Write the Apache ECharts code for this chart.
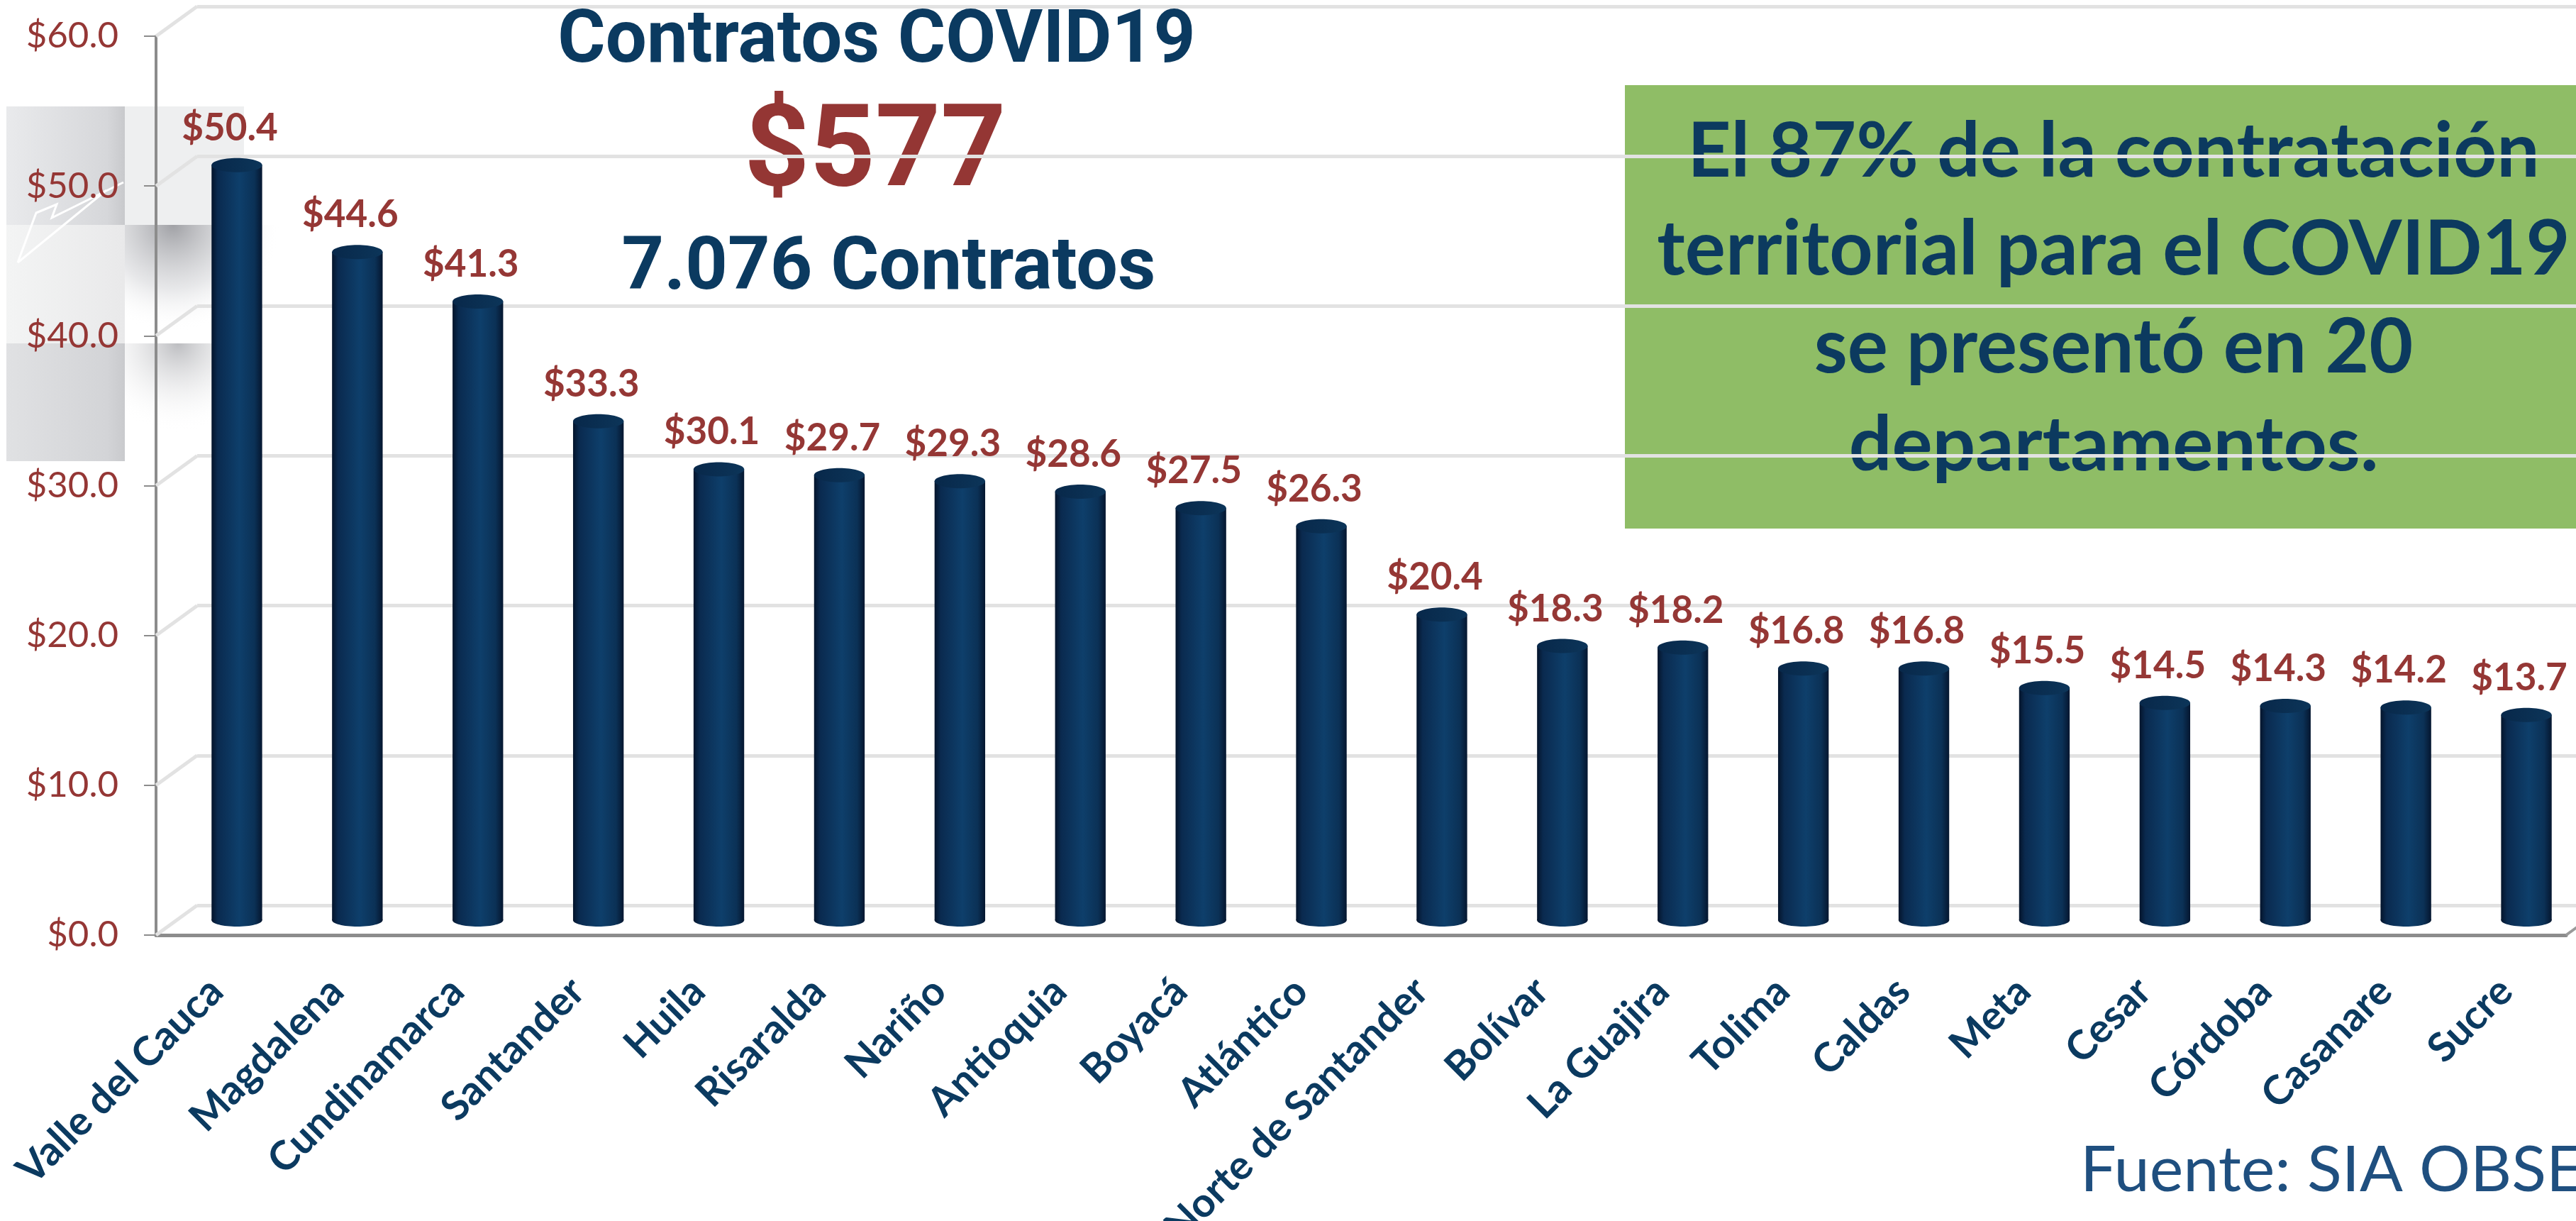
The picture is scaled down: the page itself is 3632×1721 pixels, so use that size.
<!DOCTYPE html>
<html>
<head>
<meta charset="utf-8">
<title>Contratos COVID19</title>
<script src="https://cdn.jsdelivr.net/npm/echarts@6/dist/echarts.min.js"></script>
<style>
  html, body { margin: 0; padding: 0; background: #fff; }
  #chart { width: 3632px; height: 1721px; }
</style>
</head>
<body>
<div id="chart"></div>
<script>
// valores en miles de millones de pesos
const departamentos = ['Valle del Cauca', 'Magdalena', 'Cundinamarca', 'Santander', 'Huila', 'Risaralda', 'Nariño', 'Antioquia', 'Boyacá', 'Atlántico', 'Norte de Santander', 'Bolívar', 'La Guajira', 'Tolima', 'Caldas', 'Meta', 'Cesar', 'Córdoba', 'Casanare', 'Sucre'];
const valores = [50.4, 44.6, 41.3, 33.3, 30.1, 29.7, 29.3, 28.6, 27.5, 26.3, 20.4, 18.3, 18.2, 16.8, 16.8, 15.5, 14.5, 14.3, 14.2, 13.7];
const ticksY = [0, 10, 20, 30, 40, 50, 60];
const resumen = ['Contratos COVID19', '$577', '7.076 Contratos'];
const nota = ['El 87% de la contratación', 'territorial para el COVID19', 'se presentó en 20', 'departamentos.'];
const fuente = 'Fuente: SIA OBSERVA';

const DX = 58, DY = -42; // profundidad del efecto 3D
const navy = '#0b3a60';
const rojo = '#953735';

const chart = echarts.init(document.getElementById('chart'));

const bodyGrad = () => new echarts.graphic.LinearGradient(0, 0, 1, 0, [
  { offset: 0, color: '#04142b' },
  { offset: 0.12, color: '#0a2a4f' },
  { offset: 0.55, color: '#0e3f6b' },
  { offset: 0.85, color: '#0b3156' },
  { offset: 1, color: '#05162f' }
]);
const topGrad = () => new echarts.graphic.LinearGradient(0, 0, 1, 0, [
  { offset: 0, color: '#08284a' },
  { offset: 1, color: '#0c3559' }
]);

function renderBar(params, api) {
  const i = api.value(0), v = api.value(1);
  const base = api.coord([i, 0]);
  const top = api.coord([i, v]);
  const w = api.size([1, 0])[0] * 0.42;
  const cx = base[0] + DX / 2;
  const by = base[1] + DY / 2;
  const ty = top[1] + DY / 2;
  return {
    type: 'group',
    children: [
      { type: 'ellipse', shape: { cx: cx, cy: by, rx: w / 2, ry: 9 }, style: { fill: bodyGrad() } },
      { type: 'rect', shape: { x: cx - w / 2, y: ty, width: w, height: by - ty }, style: { fill: bodyGrad() } },
      { type: 'ellipse', shape: { cx: cx, cy: ty, rx: w / 2, ry: 10 }, style: { fill: topGrad() } },
      {
        type: 'text', x: base[0] + 19, y: ty - 52,
        style: { text: '$' + v.toFixed(1), fill: rojo, font: 'bold 53px Lato', textAlign: 'center', textVerticalAlign: 'middle', align: 'center', verticalAlign: 'middle' }
      }
    ]
  };
}

// lineas diagonales entre el eje frontal y la pared del fondo
function renderDepth(params, api) {
  const v = api.value(0);
  const cs = params.coordSys;
  const y = api.coord([0, v])[1];
  const children = [
    { type: 'line', shape: { x1: cs.x, y1: y, x2: cs.x + DX, y2: y + DY }, style: { stroke: '#e2e2e2', lineWidth: 5 } }
  ];
  if (v === 0) {
    children.push({ type: 'line', shape: { x1: cs.x + cs.width, y1: y, x2: cs.x + cs.width + DX, y2: y + DY }, style: { stroke: '#9a9a9a', lineWidth: 4 } });
  }
  return { type: 'group', children: children };
}

const decoracion = [
  { type: 'rect', z: -10, shape: { x: 9, y: 150, width: 167, height: 167 },
    style: { fill: new echarts.graphic.LinearGradient(0, 0, 1, 0, [{ offset: 0, color: '#e9eaec' }, { offset: 0.85, color: '#d6d7da' }, { offset: 1, color: '#c8c9cc' }]) } },
  { type: 'rect', z: -10, shape: { x: 176, y: 150, width: 168, height: 167 }, style: { fill: '#eeeff0' } },
  { type: 'rect', z: -10, shape: { x: 9, y: 317, width: 167, height: 167 },
    style: { fill: new echarts.graphic.LinearGradient(0, 0, 1, 0, [{ offset: 0, color: '#f3f4f4' }, { offset: 1, color: '#e9e9ea' }]) } },
  { type: 'rect', z: -10, shape: { x: 176, y: 317, width: 340, height: 167 },
    style: { fill: new echarts.graphic.RadialGradient(0.2, 0, 0.9, [{ offset: 0, color: 'rgba(150,151,156,0.9)' }, { offset: 0.6, color: 'rgba(215,216,219,0.6)' }, { offset: 1, color: 'rgba(255,255,255,0)' }]) } },
  { type: 'rect', z: -10, shape: { x: 9, y: 484, width: 167, height: 166 },
    style: { fill: new echarts.graphic.LinearGradient(0, 0, 1, 0, [{ offset: 0, color: '#e0e1e3' }, { offset: 0.85, color: '#d3d4d7' }, { offset: 1, color: '#c9cacd' }]) } },
  { type: 'rect', z: -10, shape: { x: 176, y: 484, width: 300, height: 140 },
    style: { fill: new echarts.graphic.RadialGradient(0.25, 0, 0.9, [{ offset: 0, color: 'rgba(160,161,166,0.7)' }, { offset: 1, color: 'rgba(255,255,255,0)' }]) } },
  { type: 'polyline', z: -9, shape: { points: [[25, 370], [51, 300], [80, 288], [73, 307], [174, 257]] }, style: { stroke: '#ffffff', lineWidth: 3, fill: null } },
  { type: 'line', z: -9, shape: { x1: 25, y1: 370, x2: 150, y2: 268 }, style: { stroke: '#ffffff', lineWidth: 3 } }
];

const textos = [
  { type: 'text', x: 1236, y: 61, style: { text: resumen[0], font: 'bold 103px Roboto', fill: navy, textAlign: 'center', textVerticalAlign: 'middle', align: 'center', verticalAlign: 'middle' } },
  { type: 'text', x: 1234, y: 221, style: { text: resumen[1], font: 'bold 161px Roboto', fill: '#943634', textAlign: 'center', textVerticalAlign: 'middle', align: 'center', verticalAlign: 'middle' } },
  { type: 'text', x: 1253, y: 381, style: { text: resumen[2], font: 'bold 104px Roboto', fill: navy, textAlign: 'center', textVerticalAlign: 'middle', align: 'center', verticalAlign: 'middle' } },
  { type: 'rect', shape: { x: 2291, y: 120, width: 1400, height: 625 }, style: { fill: '#8fbd66' } },
  { type: 'text', x: 2980, y: 421, style: { text: nota.join('\n'), font: 'bold 107px Lato', lineHeight: 138, fill: '#0c3a5f', textAlign: 'center', textVerticalAlign: 'middle', align: 'center', verticalAlign: 'middle' } },
  { type: 'text', x: 2933, y: 1650, style: { text: fuente, font: '90px Lato', fill: '#1f4f7f', textAlign: 'left', textVerticalAlign: 'middle', align: 'left', verticalAlign: 'middle' } }
];

chart.setOption({
  backgroundColor: '#ffffff',
  animation: false,
  graphic: { elements: decoracion.concat(textos) },
  grid: [
    { left: 220, top: 51, width: 3398, height: 1267, outerBoundsMode: 'none', containLabel: false },
    { left: 220 + DX, top: 51 + DY, width: 3398, height: 1267, outerBoundsMode: 'none', containLabel: false }
  ],
  xAxis: [
    {
      type: 'category', gridIndex: 0, data: departamentos,
      axisLine: { lineStyle: { color: '#8c8c8c', width: 5 } },
      axisTick: { length: 18, lineStyle: { color: '#8c8c8c', width: 2 } },
      axisLabel: { interval: 0, rotate: 45, margin: 70, color: navy, fontFamily: 'Lato', fontWeight: 'bold', fontSize: 57 }
    },
    { type: 'category', gridIndex: 1, data: departamentos, show: false }
  ],
  yAxis: [
    {
      type: 'value', gridIndex: 0, min: 0, max: 60, interval: 10,
      axisLine: { show: true, lineStyle: { color: '#8c8c8c', width: 4 } },
      axisTick: { show: true, length: 17, lineStyle: { color: '#8c8c8c', width: 2 } },
      splitLine: { show: false },
      axisLabel: { margin: 53, color: rojo, fontFamily: 'Lato', fontSize: 51, formatter: v => '$' + v.toFixed(1) }
    },
    {
      type: 'value', gridIndex: 1, min: 0, max: 60, interval: 10,
      axisLine: { show: false }, axisTick: { show: false }, axisLabel: { show: false },
      splitLine: { show: true, lineStyle: { color: '#e2e2e2', width: 5 } }
    }
  ],
  series: [
    {
      type: 'custom', xAxisIndex: 0, yAxisIndex: 0, z: 1,
      renderItem: renderDepth,
      data: ticksY.map(v => [v]),
      encode: { y: 0 },
      silent: true
    },
    {
      type: 'custom', xAxisIndex: 0, yAxisIndex: 0, z: 3,
      renderItem: renderBar,
      data: valores.map((v, i) => [i, v]),
      encode: { x: 0, y: 1 }
    }
  ]
});
</script>
</body>
</html>
